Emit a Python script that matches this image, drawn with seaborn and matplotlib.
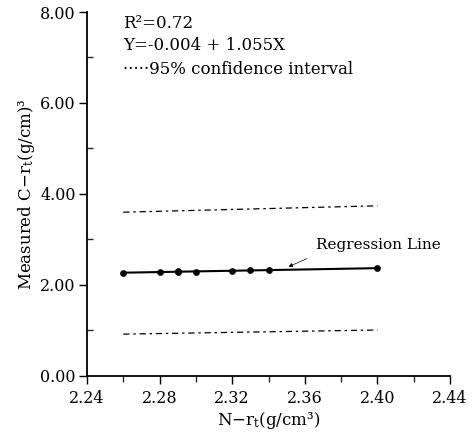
import numpy as np
import pandas as pd
import seaborn as sns
import matplotlib.pyplot as plt
from matplotlib.ticker import MultipleLocator

# dados
n_rt = [2.26, 2.28, 2.29, 2.29, 2.30, 2.32, 2.33, 2.34, 2.40]
c_rt = [2.27, 2.28, 2.29, 2.30, 2.29, 2.31, 2.32, 2.33, 2.38]
reg_x = [2.26, 2.40]
reg_y = [2.27, 2.37]
upper_x = [2.26, 2.40]
upper_y = [3.60, 3.74]
lower_x = [2.26, 2.40]
lower_y = [0.92, 1.01]

sns.set_style('ticks')
plt.rcParams['font.family'] = ['DejaVu Serif']
plt.rcParams['mathtext.fontset'] = 'dejavuserif'
plt.rcParams['text.color'] = 'black'
plt.rcParams['axes.labelcolor'] = 'black'

df = pd.DataFrame({'N': n_rt, 'C': c_rt})

fig = plt.figure(figsize=(4.74, 4.38), dpi=100)
ax = fig.add_axes([0.1835, 0.1416, 0.766, 0.831])

# linha de regressao, pontos e intervalo de confianca
sns.lineplot(x=reg_x, y=reg_y, color='black', lw=1.5, ax=ax)
sns.scatterplot(x='N', y='C', data=df, color='black', s=20, edgecolor='black', ax=ax, zorder=3)
sns.lineplot(x=upper_x, y=upper_y, color='black', lw=0.9, ax=ax)
ax.lines[-1].set_linestyle((0, (5, 3, 2, 3)))
sns.lineplot(x=lower_x, y=lower_y, color='black', lw=0.9, ax=ax)
ax.lines[-1].set_linestyle((0, (5, 3, 2, 3)))

ax.set_xlim(2.24, 2.44)
ax.set_ylim(0, 8)
ax.xaxis.set_major_locator(MultipleLocator(0.04))
ax.xaxis.set_minor_locator(MultipleLocator(0.02))
ax.yaxis.set_major_locator(MultipleLocator(2))
ax.yaxis.set_minor_locator(MultipleLocator(1))
ax.set_xticklabels([f'{v:.2f}' for v in ax.get_xticks()])
ax.set_yticklabels([f'{v:.2f}' for v in ax.get_yticks()])
ax.tick_params(axis='both', which='major', length=6, width=1, labelsize=11.5, color='black', labelcolor='black', pad=2)
ax.tick_params(axis='x', which='major', pad=4)
ax.tick_params(axis='x', which='minor', length=4, width=1, direction='out')
ax.tick_params(axis='y', which='minor', length=4, width=1, direction='in')
for s in ['left', 'bottom']:
    ax.spines[s].set_linewidth(1.3)
    ax.spines[s].set_color('black')
sns.despine(ax=ax)

ax.set_xlabel('N$-$r$_\\mathrm{t}$(g/cm\u00b3)', fontsize=12, labelpad=2)
ax.set_ylabel('Measured C$-$r$_\\mathrm{t}$(g/cm)\u00b3', fontsize=12, labelpad=2)

ax.text(0.099, 0.992, 'R\u00b2=0.72', transform=ax.transAxes, fontsize=12, va='top')
ax.text(0.099, 0.93, 'Y=-0.004 + 1.055X', transform=ax.transAxes, fontsize=12, va='top')
ax.text(0.099, 0.865, '\u00b7\u00b7\u00b7\u00b7\u00b795% confidence interval', transform=ax.transAxes, fontsize=12, va='top')

ax.annotate('Regression Line', xy=(2.351, 2.40), xytext=(2.366, 2.88), fontsize=11, va='center',
            arrowprops=dict(arrowstyle='-|>', mutation_scale=6, color='black', lw=0.5,
                            shrinkA=6, shrinkB=0, relpos=(0.05, 0.0)))

plt.savefig('out.png', dpi=100)
